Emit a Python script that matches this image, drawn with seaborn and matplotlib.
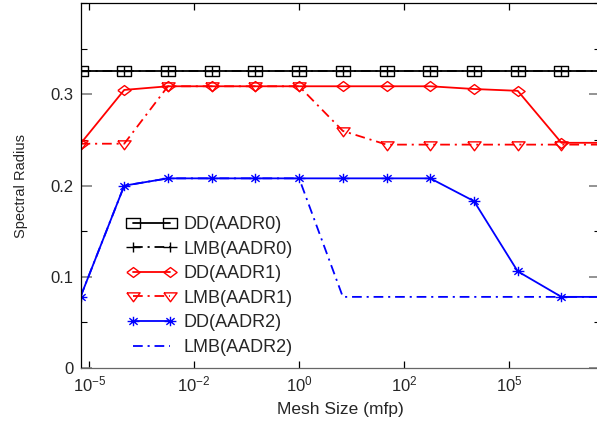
import numpy as np
import pandas as pd
import matplotlib
matplotlib.use("Agg")
import matplotlib.pyplot as plt
import seaborn as sns
from matplotlib.path import Path
from matplotlib.ticker import FixedLocator, FixedFormatter, NullLocator, MultipleLocator

# ---------------- data ----------------
mesh_size = [1e-5, 1e-4, 1e-3, 1e-2, 1e-1, 1e0, 1e1, 1e2, 1e3, 1e4, 1e5, 1e6, 1e7]
dd_aadr0 = [0.326, 0.326, 0.326, 0.326, 0.326, 0.326, 0.326, 0.326, 0.326, 0.326, 0.326, 0.326, 0.326]
lmb_aadr0 = [0.326, 0.326, 0.326, 0.326, 0.326, 0.326, 0.326, 0.326, 0.326, 0.326, 0.326, 0.326, 0.326]
dd_aadr1 = [0.246, 0.305, 0.309, 0.309, 0.309, 0.309, 0.309, 0.309, 0.309, 0.306, 0.304, 0.247, 0.247]
lmb_aadr1 = [0.246, 0.246, 0.309, 0.309, 0.309, 0.309, 0.260, 0.245, 0.245, 0.245, 0.245, 0.245, 0.245]
dd_aadr2 = [0.078, 0.200, 0.208, 0.208, 0.208, 0.208, 0.208, 0.208, 0.208, 0.183, 0.106, 0.078, 0.078]
lmb_aadr2 = [0.078, 0.200, 0.208, 0.208, 0.208, 0.208, 0.078, 0.078, 0.078, 0.078, 0.078, 0.078, 0.078]
series_names = ["DD(AADR0)", "LMB(AADR0)", "DD(AADR1)", "LMB(AADR1)", "DD(AADR2)", "LMB(AADR2)"]
series_values = [dd_aadr0, lmb_aadr0, dd_aadr1, lmb_aadr1, dd_aadr2, lmb_aadr2]
xtick_labels = [r"$10^{-5}$", r"$10^{-2}$", r"$10^{0}$", r"$10^{2}$", r"$10^{5}$"]
ytick_values = [0, 0.1, 0.2, 0.3]
ytick_labels = ["0", "0.1", "0.2", "0.3"]

# ---------------- style ----------------
sns.set_theme(style="ticks")
plt.rcParams["font.family"] = ["Liberation Sans", "DejaVu Sans"]
plt.rcParams["mathtext.fontset"] = "custom"
plt.rcParams["mathtext.rm"] = "Liberation Sans"
plt.rcParams["mathtext.it"] = "Liberation Sans"
plt.rcParams["lines.scale_dashes"] = False

M, L = Path.MOVETO, Path.LINETO
rect = Path([(-1, -0.7), (1, -0.7), (1, 0.7), (-1, 0.7), (-1, -0.7)], [M, L, L, L, L])
plus = Path([(-1, 0), (1, 0), (0, -0.7), (0, 0.7)], [M, L, M, L])
diamond = Path([(-1, 0), (0, 0.75), (1, 0), (0, -0.75), (-1, 0)], [M, L, L, L, L])
tri_down = Path([(-1, 0.55), (1, 0.55), (0, -0.8), (-1, 0.55)], [M, L, L, L])
aster = Path([(-1, 0), (1, 0), (0, -0.8), (0, 0.8), (-0.7, -0.56), (0.7, 0.56), (-0.7, 0.56), (0.7, -0.56)],
             [M, L, M, L, M, L, M, L])

dashdot = (0, (7, 3.5, 1.5, 3.5))
styles = [
    dict(color="black", linestyle="-", marker=rect, markersize=9.5),
    dict(color="black", linestyle=dashdot, marker=plus, markersize=9.5),
    dict(color="red", linestyle="-", marker=diamond, markersize=9.5),
    dict(color="red", linestyle=dashdot, marker=tri_down, markersize=9.5),
    dict(color="blue", linestyle="-", marker=aster, markersize=8.5),
    dict(color="blue", linestyle=dashdot, marker=None, markersize=0),
]

rows = []
for name, vals in zip(series_names, series_values):
    for x, v in zip(mesh_size, vals):
        rows.append({"mesh": x, "value": v, "series": name})
df = pd.DataFrame(rows)

fig = plt.figure(figsize=(5.97, 4.28), dpi=100)
ax = fig.add_axes([80.5 / 597, 1 - 368 / 428, (599.5 - 80.5) / 597, (368 - 3.3) / 428])
ax.set_xscale("log")

for name, st in zip(series_names, styles):
    sub = df[df["series"] == name]
    kw = dict(color=st["color"], linestyle=st["linestyle"], linewidth=1.3, label=name)
    if st["marker"] is not None:
        kw.update(marker=st["marker"], markersize=st["markersize"], markerfacecolor="none",
                  markeredgecolor=st["color"], markeredgewidth=1.0)
    sns.lineplot(data=sub, x="mesh", y="value", ax=ax, legend=False, **kw)

ax.set_xlim(1e-5, 10 ** 6.87)
ax.set_ylim(0, 0.4)

ax.xaxis.set_major_locator(FixedLocator(10 ** np.array([-4.8, -2.4, 0.0, 2.4, 4.8])))
ax.xaxis.set_major_formatter(FixedFormatter(xtick_labels))
ax.xaxis.set_minor_locator(NullLocator())
ax.yaxis.set_major_locator(FixedLocator(ytick_values))
ax.yaxis.set_major_formatter(FixedFormatter(ytick_labels))
ax.yaxis.set_minor_locator(MultipleLocator(0.05))

ax.tick_params(axis="both", which="both", direction="in", top=True, right=True)
ax.tick_params(axis="x", which="major", length=5, width=0.9, color="black", labelsize=12, pad=5)
ax.tick_params(axis="y", which="major", length=8, width=1.2, color="#808080", labelsize=12, pad=5)
ax.tick_params(axis="y", which="minor", length=4.5, width=0.8, color="black")

for s in ax.spines.values():
    s.set_linewidth(0.9)
    s.set_color("black")
ax.spines["bottom"].set_color("#666666")

ax.set_xlabel("Mesh Size (mfp)", fontsize=12.5, labelpad=5)
ax.set_ylabel("Spectral Radius", fontsize=10.5, labelpad=16)

handles, labels = ax.get_legend_handles_labels()
ax.legend(handles, labels, loc="upper left", bbox_to_anchor=(128 / 597, 1 - 216 / 428),
          bbox_transform=fig.transFigure, frameon=False, fontsize=13, handlelength=2.6,
          handletextpad=0.45, labelspacing=0.42, borderpad=0, borderaxespad=0, numpoints=2)

fig.savefig("out.png", dpi=100)
